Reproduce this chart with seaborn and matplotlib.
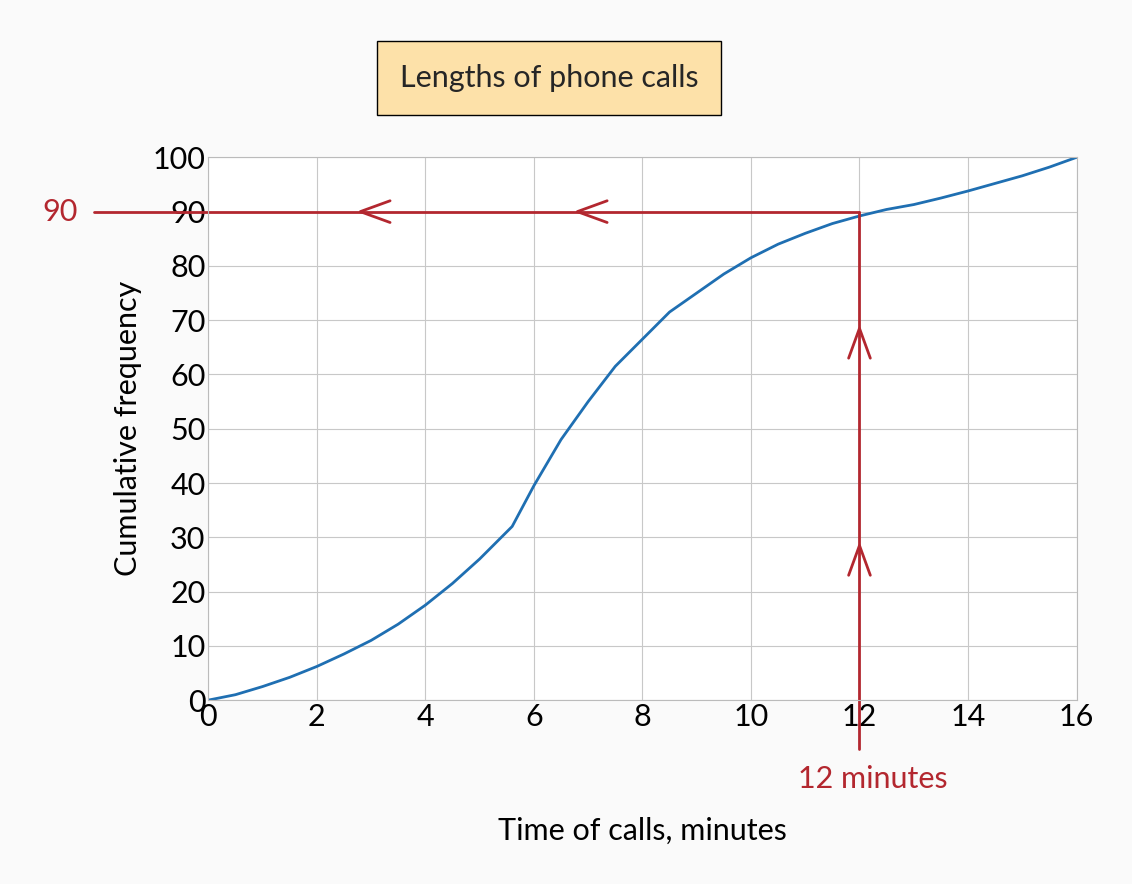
import numpy as np
import matplotlib.pyplot as plt
import seaborn as sns
import pandas as pd

# values
minutes = [0, 0.5, 1, 1.5, 2, 2.5, 3, 3.5, 4, 4.5, 5, 5.6, 6, 6.5, 7, 7.5, 8, 8.5, 9, 9.5,
           10, 10.5, 11, 11.5, 12, 12.5, 13, 13.5, 14, 14.5, 15, 15.5, 16]
cum_freq = [0, 1, 2.5, 4.2, 6.2, 8.5, 11, 14, 17.5, 21.5, 26.5, 33, 39.5, 48, 55, 61, 66.5,
            71.5, 75, 78.5, 81.5, 84, 86, 87.5, 88.7, 89.6, 90.2, 91.2, 92.3, 93.5, 94.8, 96.2, 97.6, 100][:0] or \
           [0, 1, 2.5, 4.2, 6.2, 8.5, 11, 14, 17.5, 21.5, 26.5, 32, 39.5, 48, 55, 61.5, 66.5,
            71.5, 75, 78.5, 81.5, 84, 86, 87.8, 89.2, 90, 90.4, 91.3, 92.5, 93.8, 95.2, 96.6, 98.2, 100][:33]
cum_freq = [0, 1, 2.5, 4.2, 6.2, 8.5, 11, 14, 17.5, 21.5, 26, 32, 39.5, 48, 55, 61.5, 66.5,
            71.5, 75, 78.5, 81.5, 84, 86, 87.8, 89.2, 90.4, 91.3, 92.5, 93.8, 95.2, 96.6, 98.2, 100]
read_x = 12
read_y = 90

red = '#b3272f'
blue = '#1f6fb2'

sns.set_style("whitegrid")
plt.rcParams['font.family'] = ['Lato', 'DejaVu Sans']

fig = plt.figure(figsize=(11.32, 8.84), dpi=100, facecolor='#fafafa')
ax = fig.add_axes([0.184, 0.208, 0.767, 0.614])
ax.set_facecolor('white')

df = pd.DataFrame({'t': minutes, 'cf': cum_freq})
sns.lineplot(data=df, x='t', y='cf', ax=ax, color=blue, linewidth=2)

ax.set_xlim(0, 16)
ax.set_ylim(0, 100)
ax.set_xticks(range(0, 17, 2))
ax.set_yticks(range(0, 101, 10))
ax.tick_params(labelsize=22, length=0, pad=2, labelcolor='black')
ax.grid(True, color='#c8c8c8', linewidth=0.8)
for s in ax.spines.values():
    s.set_color('#bbbbbb')
ax.set_xlabel('Time of calls, minutes', fontsize=22, labelpad=62, color='black')
ax.set_ylabel('Cumulative frequency', fontsize=22, labelpad=8, color='black')

# reading lines
ax.plot([-2.1, read_x], [read_y, read_y], color=red, lw=2, clip_on=False)
ax.plot([read_x, read_x], [read_y, -9], color=red, lw=2, clip_on=False)
for xa in [2.8, 6.8]:
    ax.plot([xa + 0.55, xa, xa + 0.55], [read_y + 2, read_y, read_y - 2], color=red, lw=2)
for ya in [23, 63]:
    ax.plot([read_x - 0.2, read_x, read_x + 0.2], [ya, ya + 5.5, ya], color=red, lw=2)
ax.text(-2.4, read_y, '90', color=red, fontsize=22, ha='right', va='center')
ax.text(read_x + 0.25, -14.5, '12 minutes', color=red, fontsize=22, ha='center', va='center')

fig.text(0.485, 0.912, 'Lengths of phone calls', fontsize=22, ha='center', va='center',
         bbox=dict(boxstyle='square,pad=0.75', facecolor='#fde1a9', edgecolor='black'))

fig.savefig('out.png', dpi=100, facecolor=fig.get_facecolor())
